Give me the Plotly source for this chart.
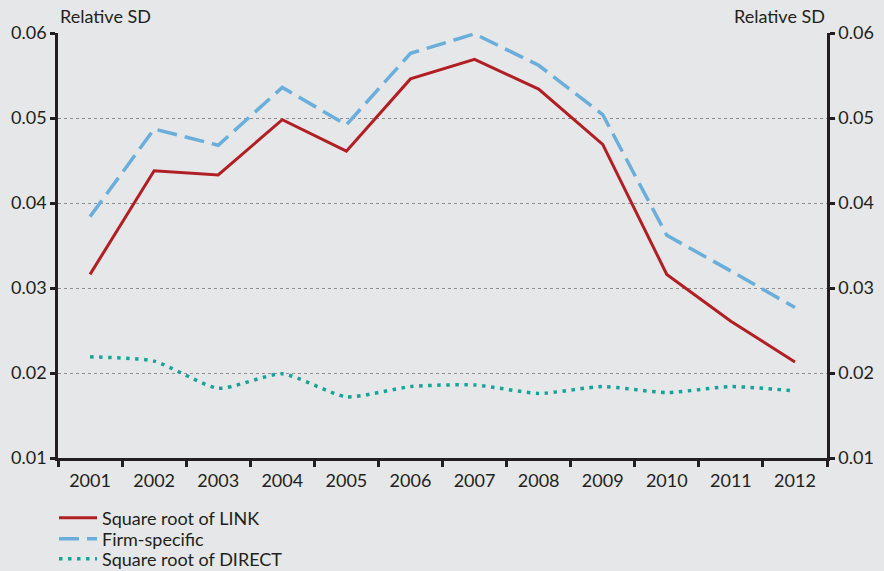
import plotly.graph_objects as go

years = ["2001","2002","2003","2004","2005","2006","2007","2008","2009","2010","2011","2012"]
link = [0.0316,0.0438,0.0433,0.0498,0.0461,0.0546,0.0569,0.0534,0.0469,0.0316,0.0261,0.0213]
firm = [0.0384,0.0487,0.0468,0.0536,0.0492,0.0576,0.0599,0.0562,0.0504,0.0362,0.0320,0.0277]
direct = [0.0219,0.0214,0.0182,0.0199,0.0172,0.0184,0.0186,0.0176,0.0184,0.0177,0.0184,0.0179]
yticks = [0.01,0.02,0.03,0.04,0.05,0.06]
ytick_labels = ["0.01","0.02","0.03","0.04","0.05","0.06"]
names = ["Square root of LINK", "Firm-specific", "Square root of DIRECT"]

BG = "#e6e7e8"
FONT = "Lato"
INK = "#231f20"
W, H = 884, 600   # page viewport shows the top 571 px; extra room keeps legend from shrinking plot

fig = go.Figure()
fig.add_trace(go.Scatter(x=years, y=link, mode="lines", name=names[0], legend="legend",
                         line=dict(color="#b11f24", width=3)))
fig.add_trace(go.Scatter(x=years, y=firm, mode="lines", name=names[1], legend="legend2",
                         line=dict(color="#6aaedb", width=3.5, dash="20px,8px")))
fig.add_trace(go.Scatter(x=years, y=direct, mode="lines", name=names[2], legend="legend3",
                         line=dict(color="#17a398", width=3.5, dash="3.5px,5.5px",
                                   shape="spline", smoothing=0.6)))
fig.add_trace(go.Scatter(x=years, y=link, mode="lines", yaxis="y2", showlegend=False,
                         line=dict(width=0), hoverinfo="skip", opacity=0))

axis_y = dict(range=[0.01, 0.06], tickvals=yticks, ticktext=ytick_labels, automargin=False,
              showline=True, linecolor=INK, linewidth=2.5,
              ticks="outside", ticklen=5, tickwidth=2.5, tickcolor=INK,
              tickfont=dict(size=18, color=INK, family=FONT),
              zeroline=False)

def leg(ypx):
    return dict(x=(54 - 58) / 769, y=(458 - ypx) / 425, xanchor="left", yanchor="middle",
                orientation="v", bgcolor="rgba(0,0,0,0)", itemwidth=38,
                font=dict(size=18, family=FONT, color=INK))

fig.update_layout(
    width=W, height=H,
    paper_bgcolor=BG, plot_bgcolor=BG,
    margin=dict(l=58, r=57, t=33, b=H - 458),
    font=dict(family=FONT, color=INK),
    xaxis=dict(type="category", showline=True, linecolor=INK, linewidth=2.5, automargin=False,
               ticks="outside", tickson="boundaries", ticklen=6, tickwidth=2.5, tickcolor=INK,
               ticklabelstandoff=5,
               tickfont=dict(size=18, color=INK, family=FONT), showgrid=False,
               range=[-0.5, 11.5]),
    yaxis=dict(**axis_y, showgrid=True, gridcolor="#8f8f8f", griddash="dot", gridwidth=1.2),
    yaxis2=dict(**axis_y, overlaying="y", side="right", showgrid=False),
    legend=leg(518),
    legend2=leg(539),
    legend3=leg(559),
    showlegend=True,
)
fig.add_annotation(text="Relative SD", x=0, xref="paper", y=(458 - 16) / 425, yref="paper",
                   xanchor="left", yanchor="middle", showarrow=False,
                   font=dict(size=18, family=FONT, color=INK))
fig.add_annotation(text="Relative SD", x=1, xref="paper", y=(458 - 16) / 425, yref="paper",
                   xanchor="right", yanchor="middle", showarrow=False,
                   font=dict(size=18, family=FONT, color=INK))

fig.write_html("out.html", config={"displayModeBar": False},
               post_script="document.body.style.margin='0';document.body.style.overflow='hidden';"
                           "document.documentElement.style.overflow='hidden';")
